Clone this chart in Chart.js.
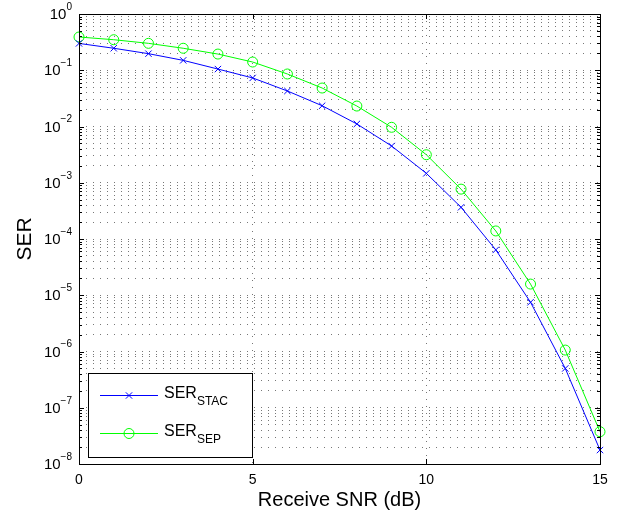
<!DOCTYPE html>
<html>
<head>
<meta charset="utf-8">
<script src="https://cdn.jsdelivr.net/npm/chart.js@4.4.0/dist/chart.umd.min.js"></script>
<style>
  html, body { margin: 0; padding: 0; background: #fff; }
  #wrap { width: 625px; height: 516px; }
</style>
</head>
<body>
<div id="wrap"><canvas id="serChart"></canvas></div>
<script>
// receive SNR (dB)
var snr = [0, 1, 2, 3, 4, 5, 6, 7, 8, 9, 10, 11, 12, 13, 14, 15];
// symbol error rate
var serStac = [0.30, 0.246, 0.197, 0.150, 0.105, 0.073, 0.0428, 0.0234, 0.0111, 0.0045,
               0.00147, 3.66e-4, 6.4e-5, 7.5e-6, 5.0e-7, 1.77e-8];
var serSep = [0.39, 0.349, 0.301, 0.246, 0.194, 0.140, 0.0858, 0.0483, 0.0231, 0.00968,
              0.00315, 7.7e-4, 1.39e-4, 1.58e-5, 1.06e-6, 3.75e-8];
var xTicks = [0, 5, 10, 15];
var yExponents = [0, -1, -2, -3, -4, -5, -6, -7, -8];
var legendNames = [['SER', 'STAC'], ['SER', 'SEP']];

var FONT = 'Liberation Sans, Arial, Helvetica, sans-serif';

// every log tick: 1..9 x 10^k
function logTicks() {
    var out = [];
    for (var k = -8; k < 0; k++) {
        for (var m = 1; m < 10; m++) out.push({ value: m * Math.pow(10, k), major: m === 1 });
    }
    out.push({ value: 1, major: true });
    return out;
}

var matlabAxes = {
    id: 'matlabAxes',
    afterDatasetsDraw: function(chart) {
        var ctx = chart.ctx;
        var a = chart.chartArea;
        var xs = chart.scales.x, ys = chart.scales.y;
        ctx.save();
        ctx.strokeStyle = '#000';
        ctx.lineWidth = 1;
        ctx.setLineDash([]);
        ctx.strokeRect(a.left + 0.5, a.top + 0.5, a.right - a.left, a.bottom - a.top);

        // inward ticks
        ctx.beginPath();
        xTicks.forEach(function(v) {
            var px = Math.round(xs.getPixelForValue(v)) + 0.5;
            ctx.moveTo(px, a.bottom); ctx.lineTo(px, a.bottom - 5);
            ctx.moveTo(px, a.top); ctx.lineTo(px, a.top + 5);
        });
        ys.ticks.forEach(function(t) {
            var py = Math.round(ys.getPixelForValue(t.value)) + 0.5;
            var len = t.major ? 5 : 3;
            ctx.moveTo(a.left, py); ctx.lineTo(a.left + len, py);
            ctx.moveTo(a.right, py); ctx.lineTo(a.right - len, py);
        });
        ctx.stroke();

        // y tick labels 10^k
        ctx.fillStyle = '#000';
        ctx.textBaseline = 'middle';
        yExponents.forEach(function(e) {
            var py = ys.getPixelForValue(Math.pow(10, e));
            var exp = e === 0 ? '0' : '\u2212' + (-e);
            ctx.font = '10px ' + FONT;
            var ew = ctx.measureText(exp).width;
            var right = a.left - 7;
            ctx.textAlign = 'left';
            ctx.fillText(exp, right - ew, py - 7);
            ctx.font = '15px ' + FONT;
            ctx.textAlign = 'right';
            ctx.fillText('10', right - ew, py + 1);
        });
        ctx.restore();
    },
    afterDraw: function(chart) {
        var ctx = chart.ctx;
        var a = chart.chartArea;
        var ds = chart.data.datasets;
        var x0 = a.left + 9, y1 = a.bottom - 7;
        var w = 164, h = 84, y0 = y1 - h;
        ctx.save();
        ctx.fillStyle = '#fff';
        ctx.fillRect(x0, y0, w, h);
        ctx.strokeStyle = '#000';
        ctx.lineWidth = 1;
        ctx.strokeRect(x0 + 0.5, y0 + 0.5, w, h);
        var rows = [y0 + 22, y0 + 60];
        legendNames.forEach(function(nm, i) {
            var d = ds[i];
            var ry = rows[i] + 0.5;
            ctx.strokeStyle = d.borderColor;
            ctx.fillStyle = 'rgba(0,0,0,0)';
            ctx.lineWidth = 1;
            ctx.beginPath();
            ctx.moveTo(x0 + 12, ry); ctx.lineTo(x0 + 70, ry);
            ctx.stroke();
            Chart.helpers.drawPoint(ctx, {
                pointStyle: d.pointStyle, radius: d.pointRadius, borderWidth: 1, rotation: 0
            }, x0 + 41, ry);
            ctx.fillStyle = '#000';
            ctx.textAlign = 'left';
            ctx.textBaseline = 'alphabetic';
            ctx.font = '16px ' + FONT;
            ctx.fillText(nm[0], x0 + 76, rows[i] + 3);
            var sw = ctx.measureText(nm[0]).width;
            ctx.font = '12px ' + FONT;
            ctx.fillText(nm[1], x0 + 76 + sw, rows[i] + 10);
        });
        ctx.restore();
    }
};

new Chart(document.getElementById('serChart'), {
    type: 'line',
    data: {
        labels: snr,
        datasets: [
            {
                label: 'SER_STAC',
                data: snr.map(function(x, i) { return { x: x, y: serStac[i] }; }),
                borderColor: '#0000ff',
                backgroundColor: 'rgba(0,0,0,0)',
                borderWidth: 1,
                pointStyle: 'crossRot',
                pointRadius: 4.5,
                pointBorderWidth: 1,
                tension: 0,
                fill: false,
                clip: false
            },
            {
                label: 'SER_SEP',
                data: snr.map(function(x, i) { return { x: x, y: serSep[i] }; }),
                borderColor: '#00ff00',
                backgroundColor: 'rgba(0,0,0,0)',
                borderWidth: 1,
                pointStyle: 'circle',
                pointRadius: 5,
                pointBorderWidth: 1,
                tension: 0,
                fill: false,
                clip: false
            }
        ]
    },
    options: {
        responsive: true,
        maintainAspectRatio: false,
        animation: false,
        devicePixelRatio: 1,
        layout: { padding: { top: 14, right: 25, left: 0, bottom: 0 } },
        plugins: { legend: { display: false }, tooltip: { enabled: false } },
        scales: {
            x: {
                type: 'linear',
                min: 0,
                max: 15,
                afterBuildTicks: function(s) { s.ticks = xTicks.map(function(v) { return { value: v }; }); },
                afterFit: function(s) { s.height = 52; },
                ticks: { color: '#000', font: { family: FONT, size: 14 }, padding: 8, maxRotation: 0 },
                grid: { color: '#777', lineWidth: 1, drawTicks: false },
                border: { display: false, dash: [1, 6] },
                title: {
                    display: true, text: 'Receive SNR (dB)', color: '#000',
                    font: { family: FONT, size: 20 }, padding: { top: 0, bottom: 4 }
                }
            },
            y: {
                type: 'logarithmic',
                min: 1e-8,
                max: 1,
                afterBuildTicks: function(s) { s.ticks = logTicks(); },
                afterFit: function(s) { s.width = 79; },
                ticks: { display: false },
                grid: { color: '#777', lineWidth: 1, drawTicks: false },
                border: { display: false, dash: [1, 6] },
                title: {
                    display: true, text: 'SER', color: '#000',
                    font: { family: FONT, size: 21 }, padding: { top: 13, bottom: 0 }
                }
            }
        }
    },
    plugins: [matlabAxes]
});
</script>
</body>
</html>
